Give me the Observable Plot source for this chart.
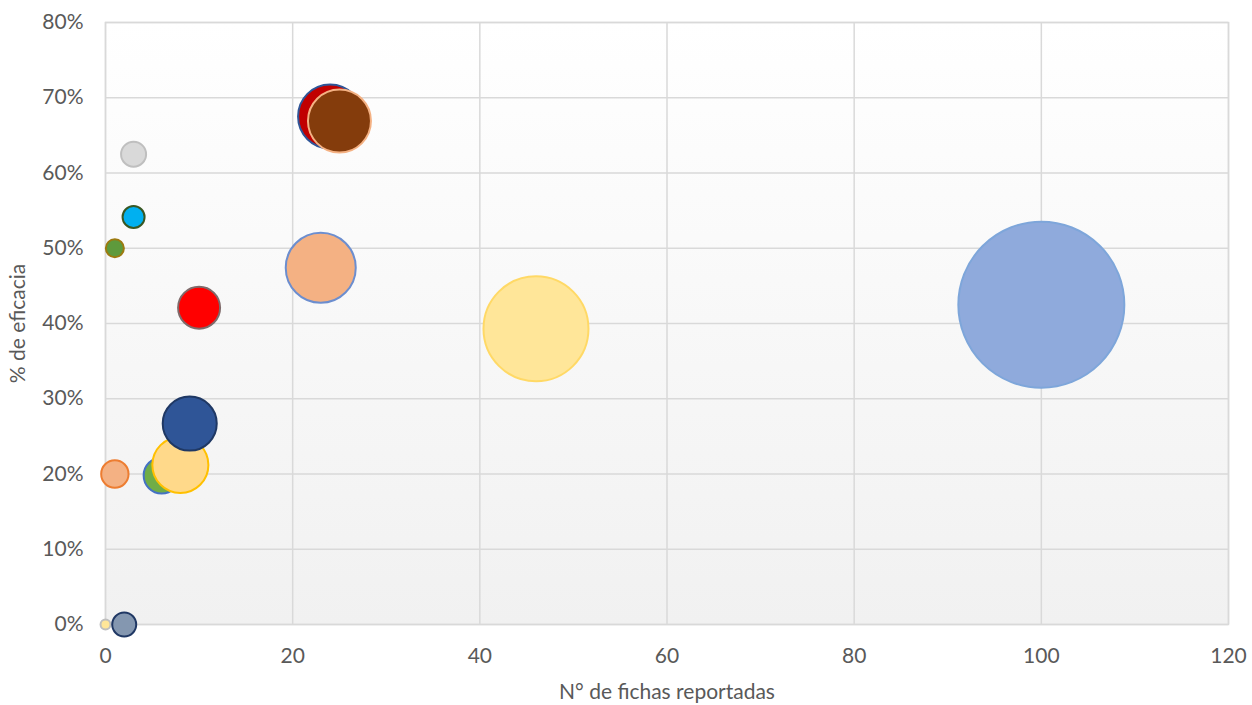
<!DOCTYPE html>
<html>
<head>
<meta charset="utf-8">
<script src="https://cdn.jsdelivr.net/npm/d3@7"></script>
<script src="https://cdn.jsdelivr.net/npm/@observablehq/plot@0.6"></script>
<style>
  html, body { margin: 0; padding: 0; background: #ffffff; }
  #chart { width: 1252px; height: 705px; }
</style>
</head>
<body>
<div id="chart"></div>
<script>
// ---- data ----
const fichas   = [100, 46, 23, 24, 25, 3, 3, 1, 10, 6, 8, 9, 1, 0, 2];
const eficacia = [0.425, 0.393, 0.474, 0.675, 0.669, 0.625, 0.5415, 0.50, 0.421, 0.198, 0.212, 0.267, 0.20, 0, 0];
const tamano   = [100, 40, 17.8, 14.9, 14.4, 2.27, 1.76, 1.18, 6.4, 4.7, 11.4, 10.6, 2.72, 0.36, 2.09];
const relleno  = ["#8FAADC", "#FFE699", "#F4B183", "#C00000", "#843C0C", "#D9D9D9", "#00B0F0", "#5E9A3C",
                  "#FF0000", "#70AD47", "#FFD98A", "#2F5597", "#F4B183", "#FFE699", "#8497B0"];
const borde    = ["#7EA6DA", "#FFD966", "#6C8ECF", "#2F5597", "#F4B183", "#BFBFBF", "#385723", "#9C7A10",
                  "#7F6A6A", "#4472C4", "#FFC000", "#1F3864", "#ED7D31", "#BFBFBF", "#203864"];
const xTicks = [0, 20, 40, 60, 80, 100, 120];
const yTicks = [0, 0.1, 0.2, 0.3, 0.4, 0.5, 0.6, 0.7, 0.8];
const xTitle = "N° de fichas reportadas";
const yTitle = "% de eficacia";

const data = fichas.map((f, i) => ({
  fichas: f, eficacia: eficacia[i], tamano: tamano[i], relleno: relleno[i], borde: borde[i]
}));

const grid = "#D9D9D9";
const chart = Plot.plot({
  width: 1252,
  height: 705,
  marginLeft: 105,
  marginRight: 24,
  marginTop: 22,
  marginBottom: 81,
  style: { fontFamily: "Lato, 'Open Sans', sans-serif", fontSize: "21px", color: "#595959", background: "#ffffff" },
  x: { domain: [0, 120] },
  y: { domain: [0, 0.8] },
  r: { type: "sqrt", domain: [0, 100], range: [0, 83] },
  color: { type: "identity" },
  marks: [
    Plot.frame({ fill: "url(#bgGrad)", stroke: null }),
    Plot.gridX(xTicks, { stroke: grid, strokeOpacity: 1, strokeWidth: 1.5 }),
    Plot.gridY(yTicks, { stroke: grid, strokeOpacity: 1, strokeWidth: 1.5 }),
    Plot.frame({ stroke: grid, strokeWidth: 1.5 }),
    Plot.axisX(xTicks, { tickSize: 0, tickPadding: 24, label: null, fontSize: 21, fill: "#595959" }),
    Plot.axisY(yTicks, { tickSize: 0, tickPadding: 22, label: null, fontSize: 21, fill: "#595959",
      tickFormat: d => Math.round(d * 100) + "%" }),
    Plot.dot(data, {
      x: "fichas", y: "eficacia", r: "tamano",
      fill: "relleno", stroke: "borde", strokeWidth: 2,
      fillOpacity: 1, sort: null
    }),
    Plot.text([xTitle], { frameAnchor: "bottom", dy: 68, text: d => d, fontSize: 21, fill: "#595959",
      textAnchor: "middle", lineAnchor: "middle" }),
    Plot.text([yTitle], { frameAnchor: "left", dx: -87, rotate: -90, text: d => d, fontSize: 21, fill: "#595959",
      textAnchor: "middle", lineAnchor: "middle" })
  ]
});

// gradient background for the plot area
const svg = d3.select(chart);
const defs = svg.insert("defs", ":first-child");
const g = defs.append("linearGradient").attr("id", "bgGrad")
  .attr("x1", 0).attr("y1", 0).attr("x2", 0).attr("y2", 1);
g.append("stop").attr("offset", "0%").attr("stop-color", "#FFFFFF");
g.append("stop").attr("offset", "100%").attr("stop-color", "#F1F1F1");

document.getElementById("chart").appendChild(chart);
</script>
</body>
</html>
